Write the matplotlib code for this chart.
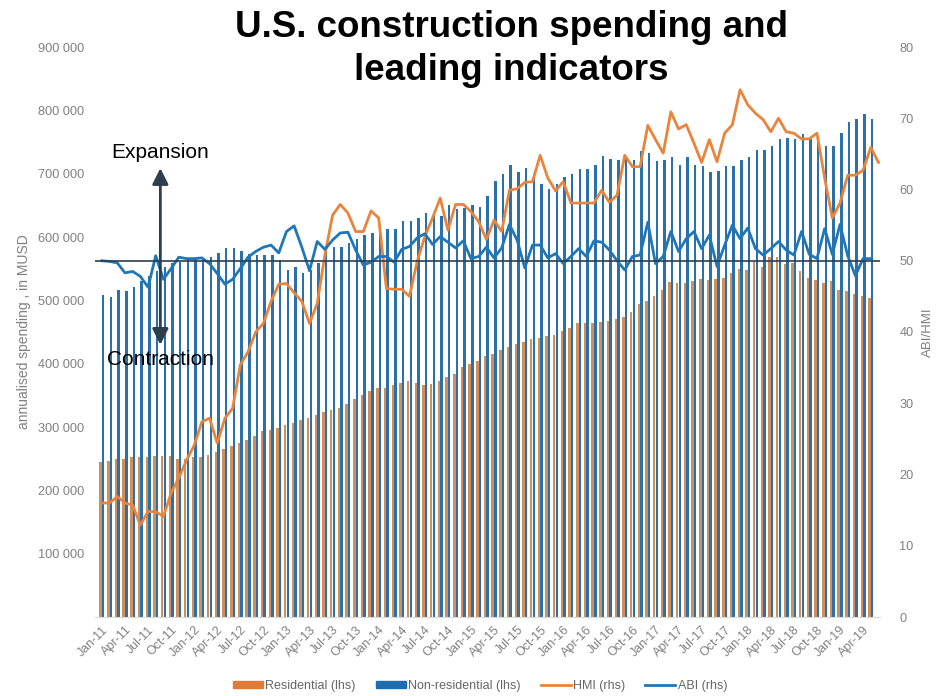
import numpy as np
import pandas as pd
import matplotlib
matplotlib.use("Agg")
import matplotlib.pyplot as plt
from matplotlib.patches import Patch
from matplotlib.lines import Line2D

plt.rcParams['font.family'] = ['Liberation Sans', 'DejaVu Sans']

months = list(pd.date_range('2011-01-01', periods=102, freq='MS').strftime('%b-%y'))

residential = [  # thousand MUSD, Jan-11 .. May-19
    245, 246, 249, 250, 252, 252, 253, 254, 255, 255, 249, 249,
    252, 253, 256, 261, 265, 270, 274, 279, 286, 294, 296, 299,
    303, 307, 311, 315, 319, 323, 327, 330, 337, 345, 351, 357,
    362, 361, 366, 370, 373, 370, 367, 368, 373, 379, 383, 394,
    399, 404, 412, 416, 422, 427, 431, 435, 439, 441, 444, 446,
    452, 457, 464, 465, 465, 466, 467, 470, 474, 482, 495, 499,
    507, 517, 529, 528, 527, 530, 533, 532, 534, 536, 543, 549,
    548, 561, 553, 569, 569, 558, 559, 546, 535, 532, 527, 530,
    517, 514, 510, 507, 503]

nonresidential = [
    508, 506, 517, 514, 521, 530, 538, 546, 553, 559, 560, 564,
    566, 566, 568, 575, 583, 583, 578, 573, 572, 572, 572, 564,
    548, 553, 543, 548, 559, 580, 585, 585, 590, 597, 603, 606,
    606, 612, 613, 625, 625, 630, 638, 635, 633, 650, 644, 646,
    650, 647, 664, 688, 700, 714, 702, 709, 700, 683, 676, 684,
    694, 699, 708, 707, 713, 728, 723, 722, 728, 722, 736, 732,
    720, 722, 727, 714, 727, 714, 712, 702, 704, 712, 712, 722,
    726, 738, 737, 744, 754, 756, 755, 762, 756, 757, 743, 743,
    765, 782, 786, 794, 787]

hmi = [  # Jan-11 .. Jun-19
    16.0, 16.0, 16.9, 16.0, 15.7, 12.9, 14.8, 14.8, 14.1, 17.4, 19.5, 22.0,
    24.1, 27.4, 27.9, 24.4, 27.9, 29.3, 35.4, 37.2, 40.0, 41.2, 44.3, 46.7,
    46.8, 45.5, 44.3, 41.2, 44.0, 50.8, 56.4, 57.9, 56.7, 54.1, 54.1, 57.0,
    56.0, 46.1, 46.0, 46.0, 45.0, 49.9, 53.4, 56.0, 58.8, 54.3, 57.9, 57.9,
    56.9, 55.5, 53.0, 55.7, 54.1, 59.9, 60.1, 61.0, 61.1, 64.8, 61.6, 59.8,
    61.1, 58.1, 58.1, 58.1, 58.1, 59.9, 58.2, 59.2, 64.8, 63.2, 63.2, 69.0,
    67.0, 65.1, 70.9, 68.5, 69.1, 66.5, 63.8, 67.0, 63.9, 67.9, 69.1, 74.0,
    71.9, 70.7, 69.8, 68.1, 70.0, 68.1, 67.9, 67.1, 67.1, 67.9, 61.6, 56.0,
    58.1, 62.0, 62.0, 62.7, 65.9, 63.8]

abi = [  # Jan-11 .. May-19
    50.0, 49.9, 49.7, 48.3, 48.5, 47.8, 46.3, 50.7, 47.4, 48.9, 50.5, 50.3,
    50.3, 50.4, 49.6, 48.2, 46.7, 47.4, 48.9, 50.5, 51.3, 51.9, 52.2, 51.1,
    54.1, 54.9, 51.9, 48.6, 52.7, 51.6, 52.9, 53.9, 54.0, 51.5, 49.4, 49.8,
    50.6, 50.6, 49.8, 51.6, 52.0, 53.2, 53.8, 52.3, 53.4, 52.6, 51.8, 52.8,
    50.3, 50.6, 51.9, 50.4, 51.8, 55.1, 52.9, 49.0, 52.2, 52.2, 50.4, 51.0,
    49.6, 50.6, 51.7, 50.6, 52.8, 52.6, 51.5, 50.0, 48.7, 50.6, 50.8, 55.4,
    49.6, 50.6, 54.1, 51.3, 53.1, 54.1, 51.7, 53.6, 49.2, 52.2, 55.0, 53.1,
    54.6, 51.7, 50.8, 51.7, 52.7, 51.5, 50.8, 54.1, 50.9, 50.3, 54.5, 50.9,
    55.1, 50.7, 47.9, 50.3, 50.3]

res_col = '#cf8f5e'
nonres_col = '#2b70a8'
hmi_col = '#e8843c'
abi_col = '#1f77b9'
tick_col = '#808080'

fig = plt.figure(figsize=(9.36, 6.96), dpi=100)
ax = fig.add_axes([95/936, 79/696, 785/936, 570/696])
ax2 = ax.twinx()

xb = np.arange(len(residential))
ax.bar(xb - 0.17, np.array(residential) * 1000, width=0.32, color=res_col, linewidth=0)
ax.bar(xb + 0.17, np.array(nonresidential) * 1000, width=0.32, color=nonres_col, linewidth=0)

ax.set_xlim(-0.9, 101.2)
ax.set_ylim(0, 900000)
ax2.set_ylim(0, 80)

ax2.plot(np.arange(len(hmi)), hmi, color=hmi_col, lw=2.0, solid_joinstyle='round')
ax2.plot(np.arange(len(abi)), abi, color=abi_col, lw=2.0, solid_joinstyle='round')
ax2.axhline(50, color='#2d3e4e', lw=1.2)

# ticks
xt = np.arange(0, len(months), 3)
ax.set_xticks(xt)
ax.set_xticklabels([months[i] for i in xt], rotation=45, ha='right',
                   rotation_mode='anchor', fontsize=9, color=tick_col)
yt = np.arange(100000, 900001, 100000)
ax.set_yticks(yt)
ax.set_yticklabels([f"{v:,}".replace(',', ' ') for v in yt], fontsize=9.2, color=tick_col)
ax.tick_params(axis='both', length=0)
ax.tick_params(axis='y', pad=8)
ax.tick_params(axis='x', pad=5)
ax2.set_yticks(np.arange(0, 81, 10))
ax2.set_yticklabels([str(v) for v in range(0, 81, 10)], fontsize=9.2, color=tick_col)
ax2.tick_params(axis='y', length=0, pad=14)

for s in ['top', 'left', 'right']:
    ax.spines[s].set_visible(False)
ax.spines['bottom'].set_color('#d9d9d9')
for s in ax2.spines.values():
    s.set_visible(False)

ax.set_ylabel('annualised spending , in MUSD', fontsize=10, color=tick_col, labelpad=5)
ax2.set_ylabel('ABI/HMI', fontsize=9.5, color=tick_col, labelpad=6)

# expansion / contraction arrow
ax2.annotate('', xy=(7.6, 63.0), xytext=(7.6, 38.2),
             arrowprops=dict(arrowstyle='<|-|>', color='#2f3e4c', lw=2,
                             mutation_scale=24, shrinkA=0, shrinkB=0))
ax2.text(7.6, 65.2, 'Expansion', ha='center', va='center', fontsize=15, color='black')
ax2.text(7.6, 36.1, 'Contraction', ha='center', va='center', fontsize=15, color='black')

fig.text(0.546, 0.960, 'U.S. construction spending and', ha='center', va='center',
         fontsize=26.5, fontweight='bold')
fig.text(0.546, 0.898, 'leading indicators', ha='center', va='center',
         fontsize=26.5, fontweight='bold')

handles = [Patch(color='#e07b39'), Patch(color='#1f6db0'),
           Line2D([], [], color=hmi_col, lw=2), Line2D([], [], color=abi_col, lw=2)]
labels = ['Residential (lhs)', 'Non-residential (lhs)', 'HMI (rhs)', 'ABI (rhs)']
fig.legend(handles, labels, loc='center', bbox_to_anchor=(0.513, 0.015), ncol=4,
           frameon=False, fontsize=9, handlelength=2.4, handleheight=0.5,
           columnspacing=1.6, handletextpad=0.2, labelcolor='#666666')

fig.savefig('out.png', dpi=100)
